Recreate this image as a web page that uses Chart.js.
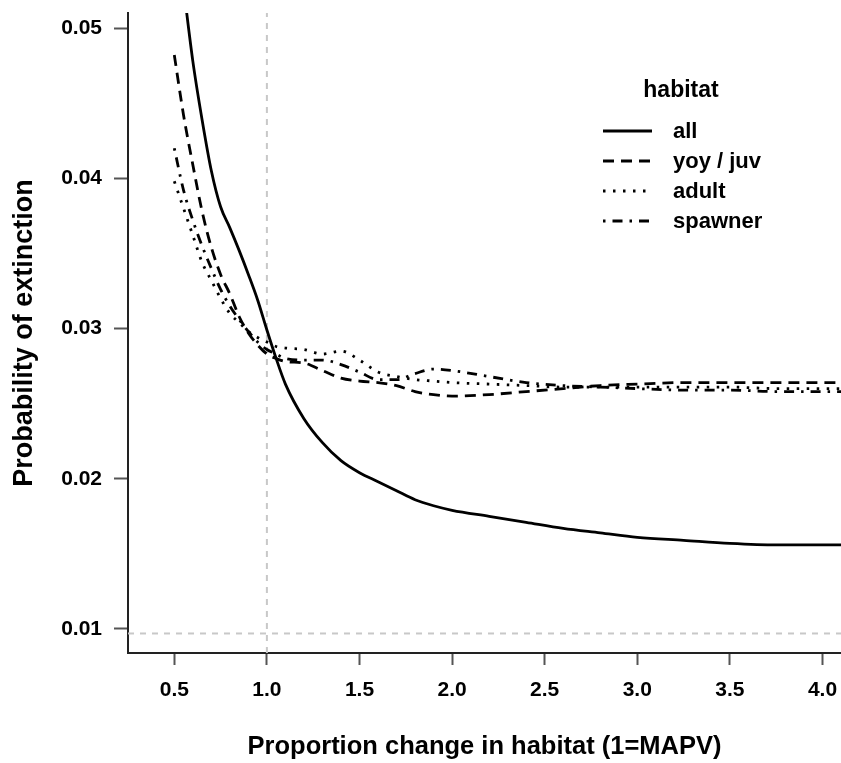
<!DOCTYPE html>
<html>
<head>
<meta charset="utf-8">
<title>Probability of extinction</title>
<script src="https://cdn.jsdelivr.net/npm/chart.js@4.4.1/dist/chart.umd.min.js"></script>
<style>
    html, body { margin: 0; padding: 0; background: #fff; }
    canvas { display: block; }
</style>
</head>
<body>
<canvas id="lineChart" width="841" height="763"></canvas>
<script>
// habitat change (x) shared by all four curves
const habitatChange = [0.5, 0.55, 0.6, 0.65, 0.7, 0.75, 0.8, 0.85, 0.9, 0.95, 1.0, 1.05, 1.1, 1.2, 1.3, 1.4, 1.5,
    1.6, 1.7, 1.8, 1.9, 2.0, 2.2, 2.4, 2.6, 2.8, 3.0, 3.25, 3.5, 3.75, 4.0, 4.1];

const allHabitat = [0.0575, 0.0527, 0.0478, 0.0439, 0.0405, 0.0381, 0.0367, 0.0352, 0.0336, 0.0319, 0.0299, 0.0280,
    0.0263, 0.0240, 0.0224, 0.0212, 0.0204, 0.0198, 0.0192, 0.0186, 0.0182, 0.0179, 0.0175, 0.0171, 0.0167, 0.0164,
    0.0161, 0.0159, 0.0157, 0.0156, 0.0156, 0.0156];
const juvHabitat = [0.0482, 0.0442, 0.0409, 0.0378, 0.0354, 0.0336, 0.0323, 0.0308, 0.0297, 0.0289, 0.0283, 0.0280,
    0.0278, 0.0277, 0.0272, 0.0267, 0.0265, 0.0264, 0.0262, 0.0258, 0.0256, 0.0255, 0.0256, 0.0258, 0.0260, 0.0262,
    0.0263, 0.0264, 0.0264, 0.0264, 0.0264, 0.0264];
const adultHabitat = [0.0398, 0.0380, 0.0362, 0.0344, 0.0332, 0.0320, 0.0310, 0.0304, 0.0298, 0.0294, 0.0291, 0.0288,
    0.0287, 0.0286, 0.0283, 0.0285, 0.0279, 0.0271, 0.0268, 0.0266, 0.0265, 0.0264, 0.0263, 0.0262, 0.0261, 0.0261,
    0.0261, 0.0261, 0.0261, 0.0260, 0.0260, 0.0260];
const spawnerHabitat = [0.0420, 0.0392, 0.0372, 0.0355, 0.0340, 0.0326, 0.0315, 0.0306, 0.0298, 0.0291, 0.0286, 0.0283,
    0.0280, 0.0279, 0.0279, 0.0276, 0.0271, 0.0266, 0.0266, 0.0270, 0.0273, 0.0272, 0.0268, 0.0264, 0.0262, 0.0261,
    0.0260, 0.0259, 0.0259, 0.0258, 0.0258, 0.0258];

const seriesLabels = ["all", "yoy / juv", "adult", "spawner"];
const xTicks = [0.5, 1.0, 1.5, 2.0, 2.5, 3.0, 3.5, 4.0];
const yTicks = [0.01, 0.02, 0.03, 0.04, 0.05];
const xRange = [0.25, 4.1];
const yRange = [0.0084, 0.051];
const refX = 1.0;      // MAPV
const refY = 0.0097;   // baseline line

const FONT = "'Liberation Sans', Arial, sans-serif";
Chart.defaults.font.family = FONT;

function toPoints(values) {
    return habitatChange.map((x, i) => ({ x: x, y: values[i] }));
}

function curve(label, values, dash) {
    return {
        label: label,
        data: toPoints(values),
        borderColor: "#000",
        borderWidth: 2.8,
        borderDash: dash,
        borderCapStyle: "butt",
        pointRadius: 0,
        cubicInterpolationMode: "monotone",
        fill: false,
    };
}

function refLine(points) {
    return {
        label: "",
        data: points,
        borderColor: "#c8c8c8",
        borderWidth: 2,
        borderDash: [6, 6],
        pointRadius: 0,
        fill: false,
    };
}

// legend drawn inside the plot, R style
const habitatLegend = {
    id: "habitatLegend",
    afterDatasetsDraw(chart) {
        const ctx = chart.ctx;
        ctx.save();
        ctx.fillStyle = "#000";
        ctx.textBaseline = "middle";
        ctx.font = "bold 23px " + FONT;
        ctx.textAlign = "center";
        ctx.fillText("habitat", 681, 91);
        ctx.font = "bold 22px " + FONT;
        ctx.textAlign = "left";
        seriesLabels.forEach((label, i) => {
            const ds = chart.data.datasets[i];
            const y = 131 + i * 30;
            ctx.strokeStyle = ds.borderColor;
            ctx.lineWidth = ds.borderWidth;
            ctx.lineCap = "butt";
            ctx.setLineDash(ds.borderDash || []);
            ctx.beginPath();
            ctx.moveTo(603, y);
            ctx.lineTo(652, y);
            ctx.stroke();
            ctx.setLineDash([]);
            ctx.fillText(label, 673, y + 1);
        });
        ctx.restore();
    },
};

function generateLineChart() {
    const ctx = document.getElementById("lineChart").getContext("2d");
    new Chart(ctx, {
        type: "line",
        data: {
            datasets: [
                curve(seriesLabels[0], allHabitat, []),
                curve(seriesLabels[1], juvHabitat, [11, 7]),
                curve(seriesLabels[2], adultHabitat, [2.5, 7.5]),
                curve(seriesLabels[3], spawnerHabitat, [2.5, 7, 10, 7]),
                refLine([{ x: refX, y: yRange[0] }, { x: refX, y: yRange[1] }]),
                refLine([{ x: xRange[0], y: refY }, { x: xRange[1], y: refY }]),
            ],
        },
        options: {
            responsive: false,
            animation: false,
            layout: { padding: { top: 13, right: 0, bottom: 0, left: 0 } },
            plugins: {
                legend: { display: false },
                tooltip: { enabled: false },
            },
            scales: {
                x: {
                    type: "linear",
                    min: xRange[0],
                    max: xRange[1],
                    afterBuildTicks: (scale) => {
                        scale.ticks = xTicks.map((v) => ({ value: v }));
                    },
                    afterFit: (scale) => {
                        scale.height = 110;
                        scale.paddingLeft = 0;
                        scale.paddingRight = 0;
                    },
                    border: { display: true, color: "#222", width: 2 },
                    grid: { drawOnChartArea: false, drawTicks: true, tickLength: 12, tickColor: "#555", tickWidth: 2 },
                    ticks: {
                        color: "#000",
                        font: { size: 21, weight: "bold" },
                        padding: 13,
                        maxRotation: 0,
                        autoSkip: false,
                        callback: (v) => v.toFixed(1),
                    },
                    title: {
                        display: true,
                        text: "Proportion change in habitat (1=MAPV)",
                        color: "#000",
                        font: { size: 25.5, weight: "bold" },
                        padding: { top: 0, bottom: 1 },
                    },
                },
                y: {
                    type: "linear",
                    min: yRange[0],
                    max: yRange[1],
                    afterBuildTicks: (scale) => {
                        scale.ticks = yTicks.map((v) => ({ value: v }));
                    },
                    afterFit: (scale) => {
                        scale.width = 128;
                        scale.paddingTop = 0;
                        scale.paddingBottom = 0;
                    },
                    border: { display: true, color: "#222", width: 2 },
                    grid: { drawOnChartArea: false, drawTicks: true, tickLength: 14, tickColor: "#555", tickWidth: 2 },
                    ticks: {
                        color: "#000",
                        font: { size: 21, weight: "bold" },
                        padding: 12,
                        autoSkip: false,
                        callback: (v) => v.toFixed(2),
                    },
                    title: {
                        display: true,
                        text: "Probability of extinction",
                        color: "#000",
                        font: { size: 27, weight: "bold" },
                        padding: { top: 8, bottom: 0 },
                    },
                },
            },
        },
        plugins: [habitatLegend],
    });
}

generateLineChart();
</script>
</body>
</html>
